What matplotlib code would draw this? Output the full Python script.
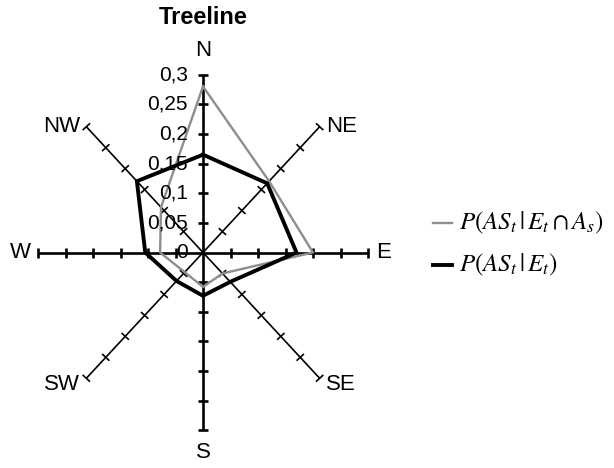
import numpy as np
import matplotlib
matplotlib.use("Agg")
import matplotlib.pyplot as plt

plt.rcParams['font.family'] = ['Liberation Sans', 'DejaVu Sans']
plt.rcParams['mathtext.fontset'] = 'stix'

# directions around the compass, clockwise from north
directions = ['N', 'NE', 'E', 'SE', 'S', 'SW', 'W', 'NW']
p_as_given_e_and_a = [0.28, 0.17, 0.20, 0.05, 0.058, 0.047, 0.078, 0.108]
p_as_given_e = [0.165, 0.165, 0.17, 0.07, 0.073, 0.068, 0.105, 0.17]
ring_values = [0.05, 0.10, 0.15, 0.20, 0.25, 0.30]
ring_labels = ['0,05', '0,1', '0,15', '0,2', '0,25', '0,3']
r_max = 0.3

W, H = 614, 468
cx, cy = 203, 252.5          # centre of the web in pixels
sx, sy = 550.0, 593.0        # pixels per unit along x and y

fig = plt.figure(figsize=(W / 100, H / 100), dpi=100)
ax = fig.add_axes([0, 0, 1, 1])
ax.set_xlim(-cx / sx, (W - cx) / sx)
ax.set_ylim(-(H - cy) / sy, cy / sy)
ax.axis('off')

angles = np.deg2rad(90 - 45 * np.arange(len(directions)))

# spokes with tick marks every 0.05
for i, th in enumerate(angles):
    ux, uy = np.cos(th), np.sin(th)
    cardinal = i % 2 == 0
    lw = 1.9 if cardinal else 1.2
    ax.plot([0, r_max * ux], [0, r_max * uy], color='black', lw=lw,
            solid_capstyle='butt', zorder=2)
    px, py = ux * sx, uy * sy
    n = np.hypot(px, py)
    px, py = px / n, py / n
    dx, dy = -py * 5 / sx, px * 5 / sy
    for r in ring_values:
        x0, y0 = r * ux, r * uy
        ax.plot([x0 - dx, x0 + dx], [y0 - dy, y0 + dy], color='black',
                lw=lw, solid_capstyle='butt', zorder=2)

# series polygons
def closed(vals):
    v = np.array(vals + vals[:1])
    a = np.concatenate([angles, angles[:1]])
    return v * np.cos(a), v * np.sin(a)

gx, gy = closed(p_as_given_e_and_a)
ax.plot(gx, gy, color='#8e8e8e', lw=1.7, zorder=3)
bx, by = closed(p_as_given_e)
ax.plot(bx, by, color='black', lw=2.8, zorder=4)

# radial value labels along the north spoke
for r, lab in zip([0.0] + ring_values, ['0'] + ring_labels):
    ax.annotate(lab, (0, r), xytext=(-15, 0), textcoords='offset pixels',
                ha='right', va='center', fontsize=15, zorder=5)

# compass labels
offsets = {'N': (0, 14, 'center', 'bottom'), 'NE': (6, 0, 'left', 'center'),
           'E': (8, 0, 'left', 'center'), 'SE': (6, -6, 'left', 'center'),
           'S': (0, -12, 'center', 'top'), 'SW': (-6, -6, 'right', 'center'),
           'W': (-7, 0, 'right', 'center'), 'NW': (-6, 0, 'right', 'center')}
for d, th in zip(directions, angles):
    ox, oy, ha, va = offsets[d]
    ax.annotate(d, (r_max * np.cos(th), r_max * np.sin(th)), xytext=(ox, oy),
                textcoords='offset pixels', ha=ha, va=va, fontsize=16)

ax.text(0, (cy - 17) / sy, 'Treeline', ha='center', va='center',
        fontsize=17, fontweight='bold')

# legend on the right
def px2data(x, y):
    return (x - cx) / sx, (cy - y) / sy

for y, col, lw, lab in [(223, '#8e8e8e', 1.7, r'$P(AS_t\,|\,E_t\cap A_s)$'),
                        (265, 'black', 2.8, r'$P(AS_t\,|\,E_t)$')]:
    x0, yy = px2data(433, y)
    x1, _ = px2data(452, y)
    ax.plot([x0, x1], [yy, yy], color=col, lw=lw)
    tx, _ = px2data(459, y)
    ax.text(tx, yy, lab, ha='left', va='center', fontsize=18)

fig.savefig('out.png', dpi=100)
